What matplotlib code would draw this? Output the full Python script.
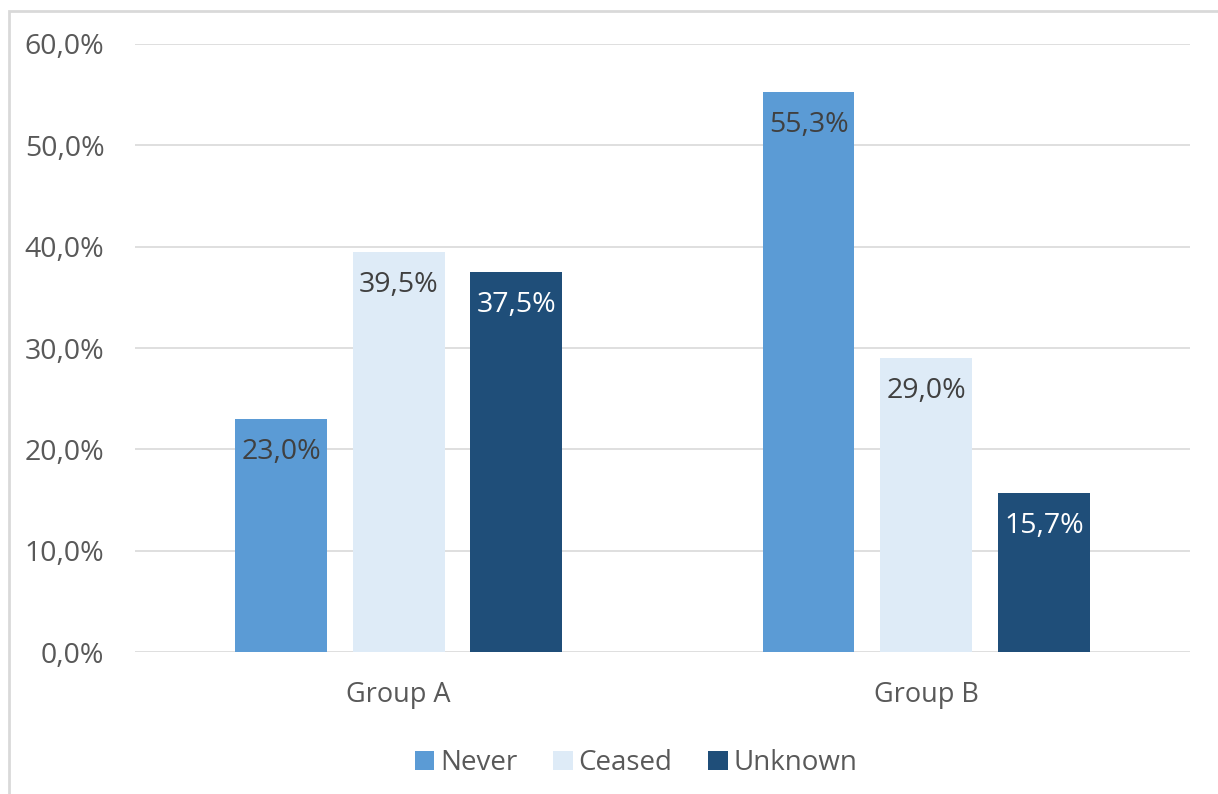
import numpy as np
import matplotlib.pyplot as plt
from matplotlib.patches import Rectangle
from matplotlib.ticker import FuncFormatter

plt.rcParams['font.family'] = ['Open Sans', 'DejaVu Sans']

groups = ['Group A', 'Group B']
series = ['Never', 'Ceased', 'Unknown']
never = [23.0, 55.3]
ceased = [39.5, 29.0]
unknown = [37.5, 15.7]
colors = ['#5B9BD5', '#DEEBF7', '#1F4E79']
label_colors = ['#404040', '#404040', 'white']

fig = plt.figure(figsize=(12.18, 7.94), dpi=100)
ax = fig.add_axes([0.1108, 0.1788, 0.8662, 0.7658])

# outer chart border
fig.patches.append(Rectangle((9 / 1218, -0.1), 1.2, 1.1 - 11 / 794, transform=fig.transFigure,
                             fill=False, edgecolor='#D9D9D9', linewidth=2, zorder=0))

x = np.arange(len(groups))
width = 0.174
step = 0.223
for i, (vals, name) in enumerate(zip([never, ceased, unknown], series)):
    bars = ax.bar(x + (i - 1) * step, vals, width, color=colors[i], label=name, zorder=3)
    for b, v in zip(bars, vals):
        ax.annotate(f'{v:.1f}%'.replace('.', ','), (b.get_x() + b.get_width() / 2, v),
                    xytext=(0, -24), textcoords='offset points', ha='center', va='center',
                    fontsize=20.5, color=label_colors[i], zorder=4)

ax.set_xlim(-0.5, 1.5)
ax.set_ylim(0, 60)
ax.set_yticks(np.arange(0, 61, 10))
ax.yaxis.set_major_formatter(FuncFormatter(lambda v, p: f'{v:.1f}%'.replace('.', ',')))
ax.set_xticks(x)
ax.set_xticklabels(groups)
ax.grid(axis='y', color='#D9D9D9', linewidth=1.2, zorder=0)
for s in ax.spines.values():
    s.set_visible(False)
ax.tick_params(axis='y', length=0, pad=22, labelsize=20.5, labelcolor='#595959')
ax.tick_params(axis='x', length=0, pad=21, labelsize=19.5, labelcolor='#595959')

ax.legend(loc='center', bbox_to_anchor=(0.475, -0.183), ncol=3, frameon=False,
          fontsize=20, labelcolor='#595959', handlelength=0.7, handleheight=0.7,
          handletextpad=0.2, columnspacing=1.3)

fig.savefig('out.png', dpi=100)
